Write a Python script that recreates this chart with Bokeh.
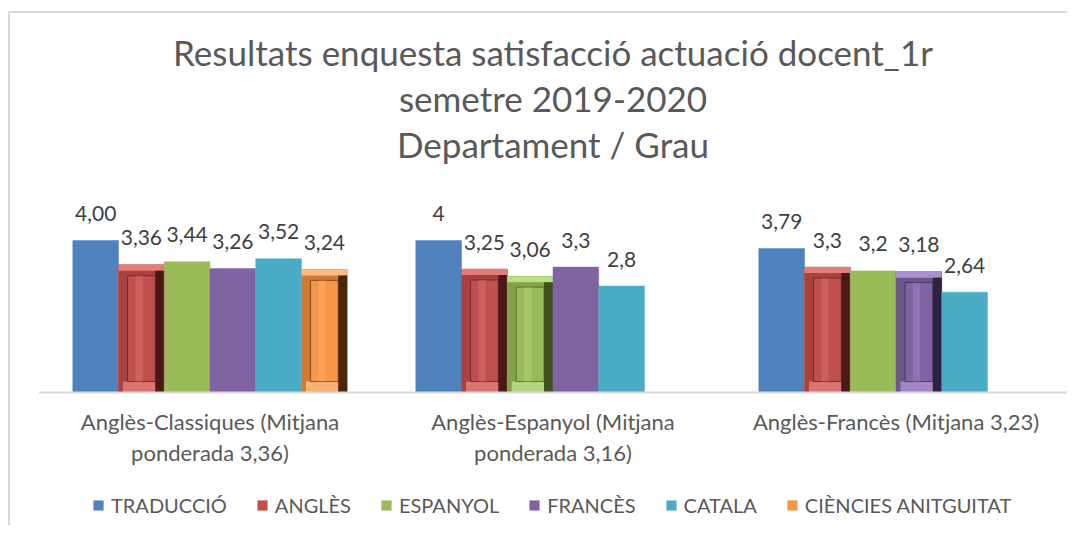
from bokeh.plotting import figure
from bokeh.models import (ColumnDataSource, FactorRange, Range1d, Legend, LegendItem, Title, Span)
from bokeh.transform import dodge
from bokeh.core.properties import value
from bokeh.embed import file_html
from bokeh.resources import INLINE

# ---------------- data ----------------
categories = [
    "Anglès-Classiques (Mitjana ponderada 3,36)",
    "Anglès-Espanyol (Mitjana ponderada 3,16)",
    "Anglès-Francès (Mitjana 3,23)",
]
tick_line1 = ["Anglès-Classiques (Mitjana", "Anglès-Espanyol (Mitjana", "Anglès-Francès (Mitjana 3,23)"]
tick_line2 = ["ponderada 3,36)", "ponderada 3,16)", ""]
title_lines = [
    "Resultats enquesta satisfacció actuació docent_1r",
    "semetre 2019-2020",
    "Departament / Grau",
]
series_names = ["TRADUCCIÓ", "ANGLÈS", "ESPANYOL", "FRANCÈS", "CATALA", "CIÈNCIES ANITGUITAT"]
traduccio = [4.00, 4.0, 3.79]
angles = [3.36, 3.25, 3.3]
espanyol = [3.44, 3.06, 3.2]
frances = [3.26, 3.3, 3.18]
catala = [3.52, 2.8, 2.64]
ciencies = [3.24, None, None]
label_decimals = [2, None, None]   # first group labels shown with 2 decimals

series_values = [traduccio, angles, espanyol, frances, catala, ciencies]

# ---------------- style ----------------
colors = ["#4F81BD", "#C0504D", "#9BBB59", "#8064A2", "#4BACC6", "#F79646"]
mid = ["#3f6797", "#a8423f", "#83a04a", "#6c5589", "#3c8a9e", "#d07a35"]
dark = ["#2c4a70", "#4a1817", "#3f501c", "#2e2242", "#2a6a7c", "#4a2508"]
light = ["#7fa6d6", "#e37d7a", "#bddc86", "#ab90d0", "#7fcde0", "#ffbb80"]
bevel = [
    [False, False, False],
    [True, True, True],
    [False, True, False],
    [False, False, True],
    [False, False, False],
    [True, False, False],
]
FONT = "Lato"
TXT = "#595959"
n = len(series_names)
slot = 0.8 / n
offsets = [(i - (n - 1) / 2) * slot for i in range(n)]
px_per_unit = 38.0
inset_x = 9.0 / 343.0
inset_y = 11.0 / px_per_unit
edge_y = 6.0 / px_per_unit


def fmt(v, ci):
    d = label_decimals[ci]
    s = f"{v:.{d}f}" if d is not None else f"{v:g}"
    return s.replace(".", ",")


# the plot frame spans bars, category labels and legend; value 0 sits at the category axis line
p = figure(
    x_range=FactorRange(*categories, range_padding=0),
    y_range=Range1d(-3.5, 5.5),
    frame_width=1029, frame_height=342,
    output_backend="svg", toolbar_location=None,
    x_axis_location=None, y_axis_location=None,
    min_border_left=28, min_border_right=0,
    min_border_top=170, min_border_bottom=0,
    outline_line_color=None,
)
# chart area border (left + top edges fall inside the window)
p.styles = {"margin-top": "11px", "margin-left": "8px",
            "border-left": "2px solid #d9d9d9", "border-top": "2px solid #d9d9d9"}

# titles: p.title is outermost; added ones stack outward from the frame
p.title.text = title_lines[0]
spacer = Title(text=" ", text_font_size="1px", standoff=15)
p.add_layout(spacer, "above")
title_objs = [p.title]
for line in (title_lines[2], title_lines[1]):
    t = Title(text=line)
    p.add_layout(t, "above")
    title_objs.append(t)
for t in title_objs:
    t.align = "center"
    t.text_font = FONT
    t.text_font_size = "35px"
    t.text_font_style = "normal"
    t.text_color = TXT
    t.standoff = 2

p.xgrid.visible = False
p.ygrid.visible = False

# category axis line at value 0
p.add_layout(Span(location=0, dimension="width", line_color="#d9d9d9", line_width=2))

# category (tick) labels, two lines, placed on the categorical scale
tick_src = ColumnDataSource(dict(cat=categories, l1=tick_line1, l2=tick_line2, y0=[0] * len(categories)))
p.text(x="cat", y="y0", text="l1", source=tick_src, text_align="center", text_baseline="middle",
       y_offset=29, text_font=value(FONT), text_font_size="22px", text_color=TXT)
p.text(x="cat", y="y0", text="l2", source=tick_src, text_align="center", text_baseline="middle",
       y_offset=60, text_font=value(FONT), text_font_size="22px", text_color=TXT)

items = []
for si, (name, vals) in enumerate(zip(series_names, series_values)):
    rows = [(categories[ci], v, fmt(v, ci), bevel[si][ci]) for ci, v in enumerate(vals) if v is not None]
    src = ColumnDataSource(dict(
        cat=[r[0] for r in rows],
        val=[r[1] for r in rows],
        lab=[r[2] for r in rows],
    ))
    xs = dodge("cat", offsets[si], range=p.x_range)
    r = p.vbar(x=xs, top="val", bottom=0, source=src,
               width=slot, fill_color=colors[si], line_color=colors[si], line_width=0.5)
    items.append(LegendItem(label=name, renderers=[r]))

    bv = [row for row in rows if row[3]]
    if bv:
        bsrc = ColumnDataSource(dict(
            cat=[b[0] for b in bv],
            val=[b[1] for b in bv],
            inner_top=[b[1] - inset_y for b in bv],
            edge_top=[b[1] - edge_y for b in bv],
        ))
        # outer bevel ring (mid tone) and light top / bottom edges
        p.vbar(x=xs, top="val", bottom=0, source=bsrc,
               width=slot, fill_color=mid[si], line_color=None)
        p.vbar(x=xs, top="val", bottom="edge_top", source=bsrc,
               width=slot, fill_color=light[si], line_color=None)
        p.vbar(x=xs, top=inset_y, bottom=0, source=bsrc,
               width=slot - inset_x, fill_color=light[si], fill_alpha=0.85, line_color=None)
        # right bevel (dark)
        p.vbar(x=dodge("cat", offsets[si] + slot / 2 - inset_x / 2, range=p.x_range), source=bsrc,
               top="edge_top", bottom=0, width=inset_x, fill_color=dark[si], line_color=None)
        # inner face
        p.vbar(x=xs, top="inner_top", bottom=inset_y, source=bsrc,
               width=slot - inset_x * 2, fill_color=colors[si], line_color=dark[si],
               line_width=1, line_alpha=0.6)
        p.vbar(x=dodge("cat", offsets[si] - slot * 0.05, range=p.x_range), top="inner_top",
               bottom=inset_y, source=bsrc, width=slot * 0.16, fill_color=light[si],
               fill_alpha=0.35, line_color=None)

    p.text(x=xs, y="val", text="lab", source=src,
           text_align="center", text_baseline="alphabetic", y_offset=-27,
           text_font=value(FONT), text_font_size="21px", text_color="#404040")

legend = Legend(items=items, orientation="horizontal", location=(54, 8),
                glyph_width=12, glyph_height=12, label_standoff=7, spacing=29,
                label_text_font=FONT, label_text_font_size="20px", label_text_color=TXT,
                border_line_color=None, background_fill_alpha=0, padding=5, margin=0)
p.add_layout(legend)

open("out.html", "w").write(file_html(p, INLINE))
